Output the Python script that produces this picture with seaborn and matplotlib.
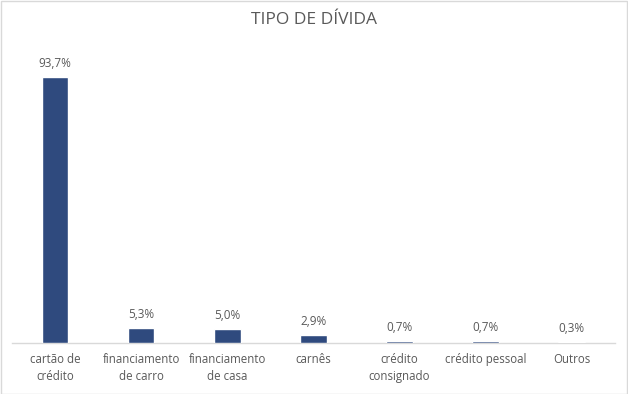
import matplotlib
matplotlib.use("Agg")
import matplotlib.pyplot as plt
import pandas as pd
import seaborn as sns
from matplotlib.patches import Rectangle

categories = ["cartão de\ncrédito", "financiamento\nde carro", "financiamento\nde casa", "carnês",
              "crédito\nconsignado", "crédito pessoal", "Outros"]
values = [93.7, 5.3, 5.0, 2.9, 0.7, 0.7, 0.3]
labels = ["93,7%", "5,3%", "5,0%", "2,9%", "0,7%", "0,7%", "0,3%"]

df = pd.DataFrame({"tipo": categories, "pct": values})

sns.set_style("white")
plt.rcParams["font.family"] = ["Open Sans", "DejaVu Sans"]
text_color = "#595959"

fig = plt.figure(figsize=(6.28, 3.94), dpi=100)
ax = fig.add_axes([0.019, 0.1294, 0.96, 0.721])
sns.barplot(data=df, x="tipo", y="pct", color="#2F4A7E", width=0.31, ax=ax, saturation=1, zorder=3)

for i, (v, lab) in enumerate(zip(values, labels)):
    ax.text(i, v + 2.5, lab, ha="center", va="bottom", fontsize=8.5, color=text_color)

ax.set_ylim(0, 100)
ax.set_xlim(-0.5, len(categories) - 0.5)
ax.set_yticks([])
ax.set_xlabel("")
ax.set_ylabel("")
ax.tick_params(axis="x", length=0, pad=7, labelsize=8.3, labelcolor=text_color)
for t in ax.get_xticklabels():
    t.set_linespacing(1.45)
for s in ["top", "right", "left"]:
    ax.spines[s].set_visible(False)
ax.spines["bottom"].set_color("#D9D9D9")
ax.spines["bottom"].set_linewidth(1)
ax.spines["bottom"].set_zorder(1)

fig.text(0.5, 0.948, "TIPO DE DÍVIDA", ha="center", va="center", fontsize=12.5, color=text_color)
fig.patches.append(Rectangle((0.001, 0.001), 0.997, 0.996, transform=fig.transFigure,
                             fill=False, edgecolor="#D9D9D9", linewidth=1))

fig.savefig("out.png", dpi=100)
